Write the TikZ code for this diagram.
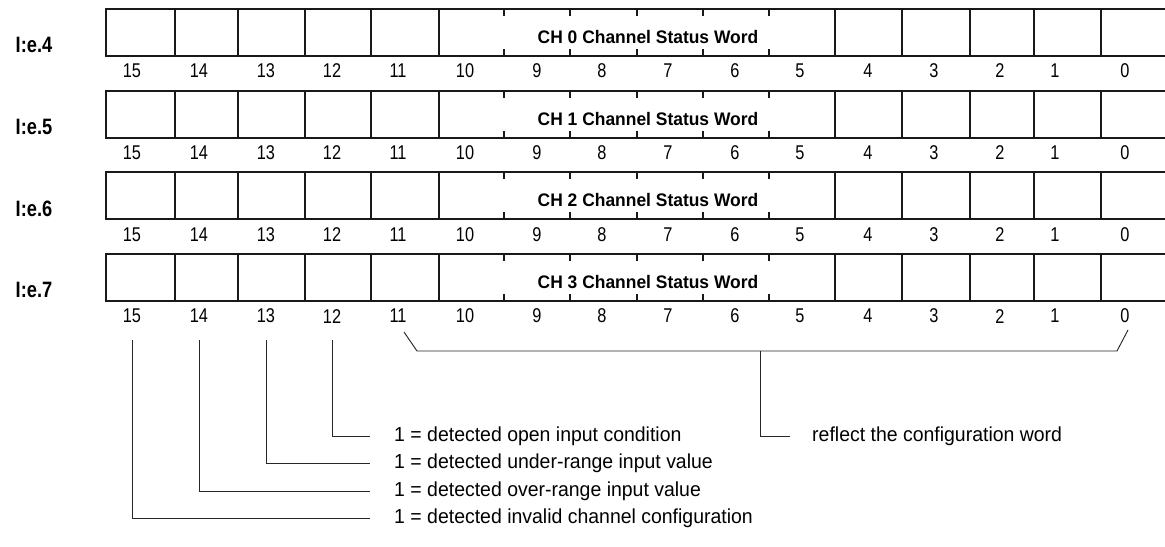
\documentclass[tikz,border=0pt]{standalone}
\usepackage{fontspec}
\setmainfont{Liberation Sans}[FakeStretch=0.96]
\newfontfamily\narrowfont{Liberation Sans}[FakeStretch=0.82]
\usetikzlibrary{positioning}

\begin{document}
\begin{tikzpicture}[x=0.03cm, y=-0.03cm]
% Styles for the register rows and the notes below them
\tikzstyle{frame} = [draw=black!90, line width=1.6pt]
\tikzstyle{bit_num} = [font=\narrowfont\fontsize{17}{17}\selectfont, inner sep=0pt]
\tikzstyle{word_lbl} = [font=\narrowfont\fontsize{19}{19}\selectfont\bfseries, inner sep=0pt]
\tikzstyle{ch_text} = [font=\fontsize{15.5}{15.5}\selectfont\bfseries, inner sep=0pt]
\tikzstyle{leader} = [draw=black!85, line width=0.8pt]
\tikzstyle{note} = [font=\fontsize{17.3}{17.3}\selectfont, inner sep=0pt, anchor=west]

\useasboundingbox (0,0) rectangle (1165,546);

% Four status words, bits 15 .. 0
\foreach \r in {0,...,3} {
  \pgfmathsetmacro\rowtop{9+81.7*\r}
  \pgfmathtruncatemacro\word{4+\r}
  \draw[frame] (106,\rowtop) rectangle (1167,\rowtop+47);
  \foreach \x in {175,238,305,371,439,835,902,970,1034,1101}
    \draw[frame] (\x,\rowtop) -- (\x,\rowtop+47);
  % bits 10 .. 5 only get short ticks
  \foreach \x in {504,570,637,703,769} {
    \draw[frame] (\x,\rowtop) -- ++(0,7);
    \draw[frame] (\x,\rowtop+47) -- ++(0,-7);
  }
  \node (w\r) [word_lbl] at (34,\rowtop+36) {I:e.\word};
  \node (ch\r) [ch_text] at (648,\rowtop+28) {CH \r{} Channel Status Word};
  \foreach \x [count=\i from 0] in {132,199,266,332,398,465,537,602,668,735,800,868,934,1000,1055,1125} {
    \pgfmathtruncatemacro\bit{15-\i}
    \node (b\r-\bit) [bit_num] at (\x,\rowtop+62) {\bit};
  }
}

% Notes for the single bits
\node (d12) [note] at (394,436) {1 = detected open input condition};
\node (d13) [note, below=0.825cm of d12.west, anchor=west] {1 = detected under-range input value};
\node (d14) [note, below=0.825cm of d13.west, anchor=west] {1 = detected over-range input value};
\node (d15) [note, below=0.825cm of d14.west, anchor=west] {1 = detected invalid channel configuration};
\node (cfg) [note] at (812,436) {reflect the configuration word};

\draw[leader, shorten <=0.5cm, shorten >=0.72cm] (b3-12.south) |- (d12.west);
\draw[leader, shorten <=0.5cm, shorten >=0.72cm] (b3-13.south) |- (d13.west);
\draw[leader, shorten <=0.5cm, shorten >=0.72cm] (b3-14.south) |- (d14.west);
\draw[leader, shorten <=0.5cm, shorten >=0.72cm] (b3-15.south) |- (d15.west);

% Brace over bits 11 .. 0
\coordinate (br_l) at (404,332);
\coordinate (br_r) at (1128,330);
\coordinate (stem) at (760,351);
\draw[leader] (br_l) -- ++(13,19) -- (1117,351) -- (br_r);
\draw[leader, shorten >=0.66cm] (stem) |- (cfg.west);
\end{tikzpicture}
\end{document}
